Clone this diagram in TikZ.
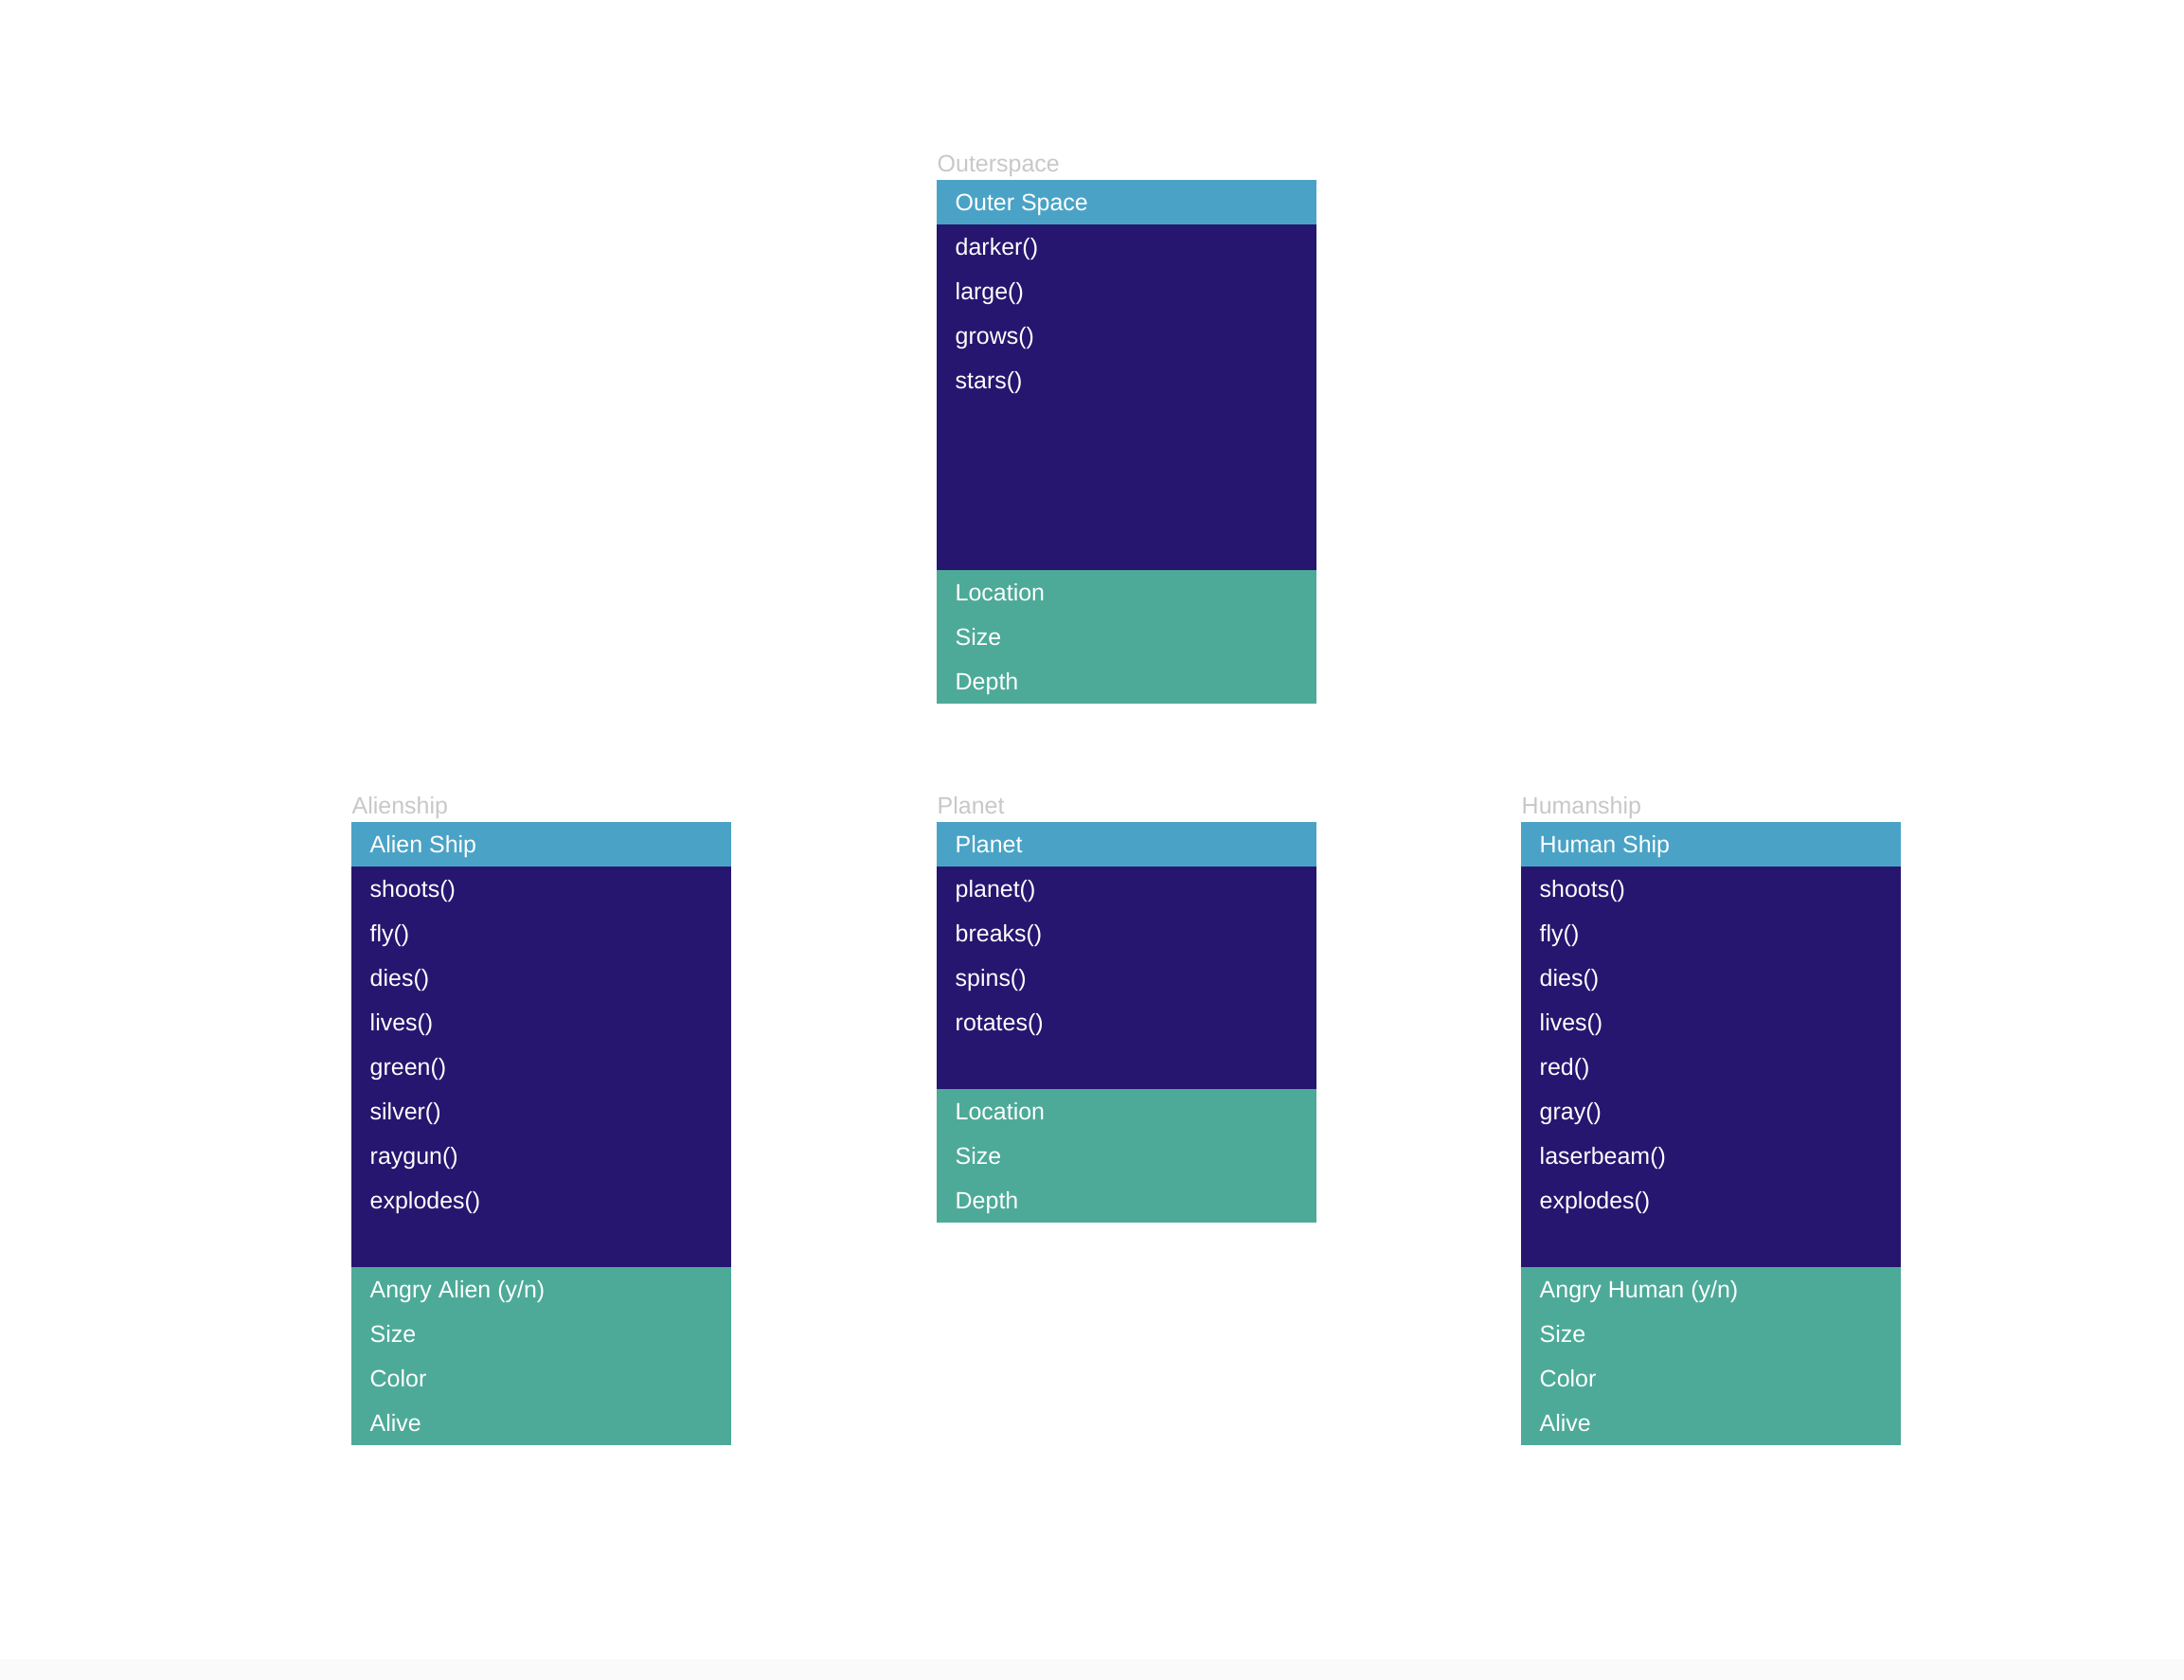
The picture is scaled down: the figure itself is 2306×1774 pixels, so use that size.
\documentclass[tikz,border=0pt]{standalone}
\usepackage{fontspec}
\setmainfont{Liberation Sans}
\usepackage{tikz,xcolor}

\definecolor{hdrblue}{RGB}{74,163,198}
\definecolor{bodypurple}{RGB}{39,22,111}
\definecolor{attrgreen}{RGB}{77,170,152}
\definecolor{tagGray}{RGB}{200,200,200}

\tikzset{
  rowtext/.style={anchor=base west,inner sep=0pt,text=white,font=\fontsize{7.1}{8}\selectfont},
  tagtext/.style={anchor=base west,inner sep=0pt,text=tagGray,font=\fontsize{7.1}{8}\selectfont}
}

\begin{document}
\begin{tikzpicture}[x=0.01cm,y=-0.01cm]
  \useasboundingbox (0,0) rectangle (2306,1774);
  \fill[white] (0,0) rectangle (2306,1774);
  \fill[black!2] (0,1752) rectangle (2306,1774);
  % outer space
  \begin{scope}[shift={(989,190)}]
    \node[tagtext] (os-tag) at (0,-8) {Outerspace};
    \fill[hdrblue] (0,0) rectangle (401,47);
    \fill[bodypurple] (0,47) rectangle (401,412);
    \fill[attrgreen] (0,412) rectangle (401,553);
    \node[rowtext] (os-h) at (19,32.5) {Outer Space};
    \foreach \t [count=\i from 0] in {darker(),large(),grows(),stars()}
      \node[rowtext] (os-m\i) at (19,79.5+47*\i) {\t};
    \foreach \t [count=\i from 0] in {Location,Size,Depth}
      \node[rowtext] (os-a\i) at (19,444.5+47*\i) {\t};
  \end{scope}
  % alien ship
  \begin{scope}[shift={(371,868)}]
    \node[tagtext] (as-tag) at (0,-8) {Alienship};
    \fill[hdrblue] (0,0) rectangle (401,47);
    \fill[bodypurple] (0,47) rectangle (401,470);
    \fill[attrgreen] (0,470) rectangle (401,658);
    \node[rowtext] (as-h) at (19,32.5) {Alien Ship};
    \foreach \t [count=\i from 0] in {shoots(),fly(),dies(),lives(),green(),silver(),raygun(),explodes()}
      \node[rowtext] (as-m\i) at (19,79.5+47*\i) {\t};
    \foreach \t [count=\i from 0] in {Angry Alien (y/n),Size,Color,Alive}
      \node[rowtext] (as-a\i) at (19,502.5+47*\i) {\t};
  \end{scope}
  % planet
  \begin{scope}[shift={(989,868)}]
    \node[tagtext] (pl-tag) at (0,-8) {Planet};
    \fill[hdrblue] (0,0) rectangle (401,47);
    \fill[bodypurple] (0,47) rectangle (401,282);
    \fill[attrgreen] (0,282) rectangle (401,423);
    \node[rowtext] (pl-h) at (19,32.5) {Planet};
    \foreach \t [count=\i from 0] in {planet(),breaks(),spins(),rotates()}
      \node[rowtext] (pl-m\i) at (19,79.5+47*\i) {\t};
    \foreach \t [count=\i from 0] in {Location,Size,Depth}
      \node[rowtext] (pl-a\i) at (19,314.5+47*\i) {\t};
  \end{scope}
  % human ship
  \begin{scope}[shift={(1606,868)}]
    \node[tagtext] (hs-tag) at (0,-8) {Humanship};
    \fill[hdrblue] (0,0) rectangle (401,47);
    \fill[bodypurple] (0,47) rectangle (401,470);
    \fill[attrgreen] (0,470) rectangle (401,658);
    \node[rowtext] (hs-h) at (19,32.5) {Human Ship};
    \foreach \t [count=\i from 0] in {shoots(),fly(),dies(),lives(),red(),gray(),laserbeam(),explodes()}
      \node[rowtext] (hs-m\i) at (19,79.5+47*\i) {\t};
    \foreach \t [count=\i from 0] in {Angry Human (y/n),Size,Color,Alive}
      \node[rowtext] (hs-a\i) at (19,502.5+47*\i) {\t};
  \end{scope}
\end{tikzpicture}
\end{document}
